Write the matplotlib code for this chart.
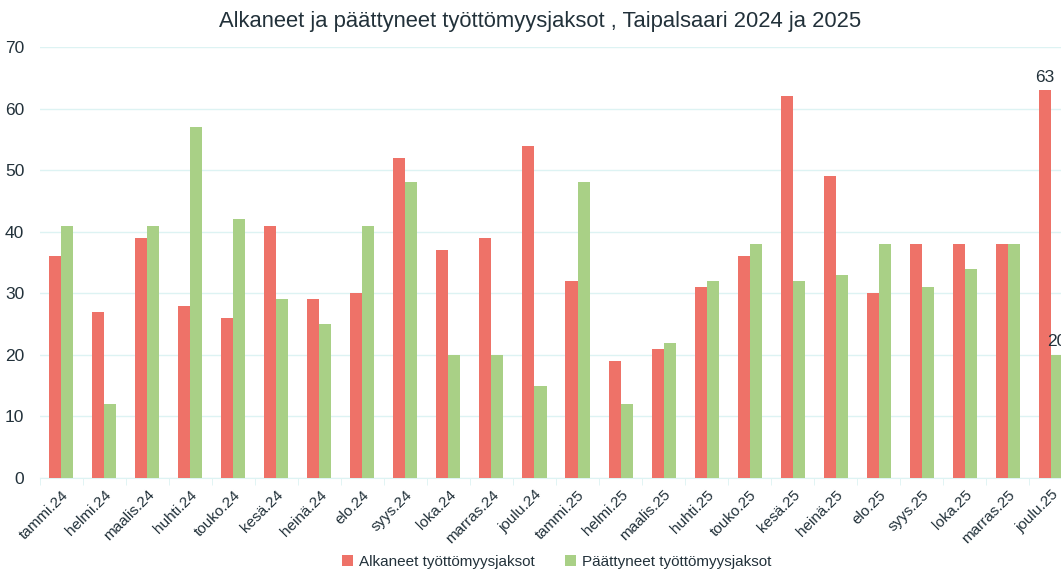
import matplotlib
matplotlib.use("Agg")
import matplotlib.pyplot as plt
import numpy as np

categories = ["tammi.24", "helmi.24", "maalis.24", "huhti.24", "touko.24", "kesä.24",
              "heinä.24", "elo.24", "syys.24", "loka.24", "marras.24", "joulu.24",
              "tammi.25", "helmi.25", "maalis.25", "huhti.25", "touko.25", "kesä.25",
              "heinä.25", "elo.25", "syys.25", "loka.25", "marras.25", "joulu.25"]
alkaneet = [36, 27, 39, 28, 26, 41, 29, 30, 52, 37, 39, 54,
            32, 19, 21, 31, 36, 62, 49, 30, 38, 38, 38, 63]
paattyneet = [41, 12, 41, 57, 42, 29, 25, 41, 48, 20, 20, 15,
              48, 12, 22, 32, 38, 32, 33, 38, 31, 34, 38, 20]
series_names = ["Alkaneet työttömyysjaksot", "Päättyneet työttömyysjaksot"]
title = "Alkaneet ja päättyneet työttömyysjaksot , Taipalsaari 2024 ja 2025"

plt.rcParams['font.family'] = ['Liberation Sans', 'DejaVu Sans']
txt = "#22313a"
red = "#EE7268"
green = "#A9D086"
grid = "#DDF3F3"

fig = plt.figure(figsize=(10.61, 5.70), dpi=100)
ax = fig.add_axes([39.5 / 1061, 1 - 478 / 570, (1072.5 - 39.5) / 1061, (478 - 47) / 570])

x = np.arange(len(categories))
w = 0.28
b1 = ax.bar(x - w / 2, alkaneet, w, color=red, label=series_names[0], zorder=3)
b2 = ax.bar(x + w / 2, paattyneet, w, color=green, label=series_names[1], zorder=3)

ax.set_xlim(-0.5, len(categories) - 0.5)
ax.set_ylim(0, 70)
ax.set_yticks(np.arange(0, 71, 10))
ax.yaxis.grid(True, color=grid, linewidth=1, zorder=0)
ax.set_axisbelow(True)
for s in ["top", "right", "left"]:
    ax.spines[s].set_visible(False)
ax.spines["bottom"].set_color(grid)
ax.tick_params(axis="y", length=0, labelsize=12.5, labelcolor=txt, pad=11)
ax.set_xticks(x)
ax.set_xticklabels(categories, rotation=45, ha="right", rotation_mode="anchor",
                   fontsize=11, color=txt)
ax.tick_params(axis="x", length=0, pad=7)
ax.set_xticks(np.arange(-0.5, len(categories), 1), minor=True)
ax.tick_params(axis="x", which="minor", length=5, color=grid)

i = len(categories) - 1
ax.text(x[i] - w / 2, alkaneet[i] + 0.9, str(alkaneet[i]), ha="center", va="bottom",
        fontsize=12.5, color=txt)
ax.text(x[i] + w / 2, paattyneet[i] + 0.9, str(paattyneet[i]), ha="center", va="bottom",
        fontsize=12.5, color=txt)

fig.text(540 / 1061, 1 - 22 / 570, title, ha="center", va="center", fontsize=15.8, color=txt)

fig.legend(handles=[b1, b2], labels=series_names, loc="center",
           bbox_to_anchor=(557 / 1061, 1 - 562 / 570),
           ncol=2, frameon=False, fontsize=11, handlelength=0.7, handleheight=0.7,
           handletextpad=0.4, columnspacing=2.0, labelcolor=txt)

fig.savefig("out.png", dpi=100)
